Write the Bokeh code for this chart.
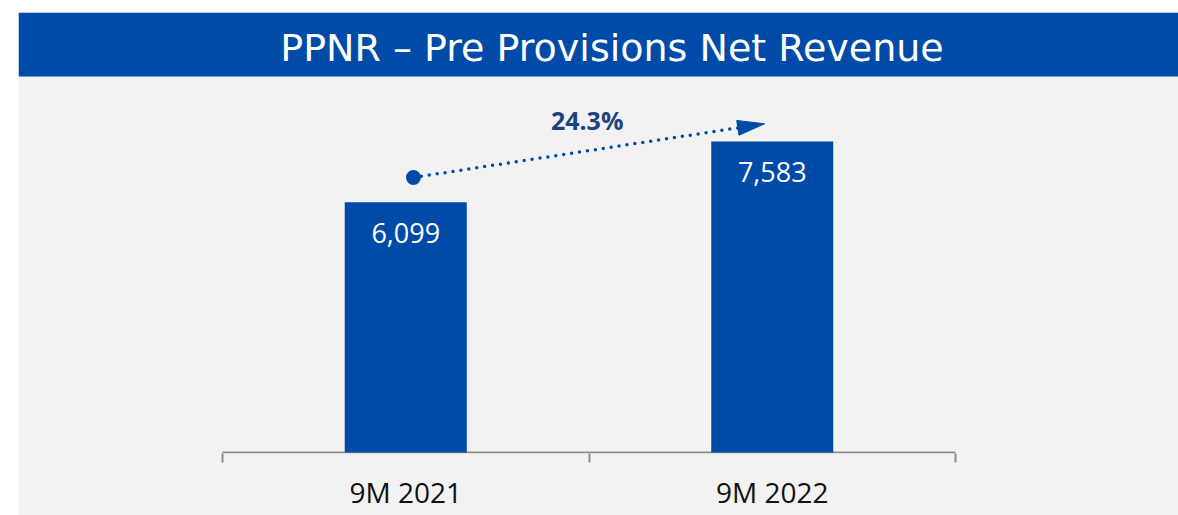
import math
from bokeh.plotting import figure
from bokeh.models import Range1d, LinearAxis, FixedTicker
from bokeh.core.properties import value
from bokeh.embed import file_html
from bokeh.resources import INLINE

# ---- data ----
categories = ["9M 2021", "9M 2022"]
ppnr_values = [6099, 7583]
value_labels = ["6,099", "7,583"]
growth_label = "24.3%"
title_text = "PPNR \u2013 Pre Provisions Net Revenue"

# ---- style ----
BLUE = "#004ba8"
BG = "#f2f2f2"
AXIS_GRAY = "#8c8c8c"
NAVY = "#1c437f"
FONT = "Open Sans"

# ---- layout constants (figure pixels) ----
FIG_W, FIG_H = 1160, 503
BORDER_B = 62                 # space under the plotting frame for the category axis
FRAME_H = FIG_H - BORDER_B
AX_L, AX_R = 204, 937         # pixel span of the category axis
BASE_PX = FRAME_H - 1         # pixel row of value 0
TITLE_BAR_H = 64
PX_PER_UNIT = 0.041013        # vertical pixels per value unit

n = len(categories)
centers = [i + 0.5 for i in range(n)]
edges = list(range(n + 1))
px_x = (AX_R - AX_L) / n
x_start = -AX_L / px_x
x_end = (FIG_W - AX_L) / px_x
y_start = -(FRAME_H - BASE_PX) / PX_PER_UNIT
y_end = BASE_PX / PX_PER_UNIT
title_bar_bottom = (BASE_PX - TITLE_BAR_H) / PX_PER_UNIT

p = figure(width=FIG_W, height=FIG_H, x_range=Range1d(x_start, x_end),
           y_range=Range1d(y_start, y_end), output_backend="svg", toolbar_location=None,
           min_border_left=0, min_border_right=0, min_border_top=0,
           min_border_bottom=BORDER_B,
           background_fill_color=BG, border_fill_color=BG, outline_line_color=None,
           x_axis_location=None, y_axis_location=None, margin=(12, 0, 0, 18))
p.xgrid.visible = False
p.ygrid.visible = False

# title bar
p.quad(left=[x_start], right=[x_end], bottom=[title_bar_bottom], top=[y_end],
       fill_color=BLUE, line_color=None)
p.text(x=[(593.5 - AX_L) / px_x], y=[(BASE_PX - 35) / PX_PER_UNIT], text=[title_text],
       text_font=value("DejaVu Sans"), text_font_size="38px", text_color="white",
       text_align="center", text_baseline="alphabetic")

# category axis: labels at centres, tick marks at category edges
ax = LinearAxis(ticker=FixedTicker(ticks=centers, minor_ticks=edges),
                major_label_overrides=dict(zip(centers, categories)),
                axis_line_color=None,
                major_tick_line_color=None, major_tick_in=0, major_tick_out=0,
                minor_tick_line_color=AXIS_GRAY, minor_tick_line_width=2,
                minor_tick_in=0, minor_tick_out=9,
                major_label_text_font=FONT, major_label_text_font_size="28px",
                major_label_text_color="#111111", major_label_standoff=10)
p.add_layout(ax, "below")
p.segment(x0=[edges[0]], x1=[edges[-1]], y0=[0], y1=[0], line_color=AXIS_GRAY,
          line_width=2)

# bars and value labels
p.vbar(x=centers, top=ppnr_values, width=0.333, fill_color=BLUE, line_color=None)
p.text(x=centers, y=ppnr_values, text=value_labels, y_offset=31,
       text_font=value(FONT), text_font_size="27px", text_color="white",
       text_align="center", text_baseline="alphabetic")

# ---- growth arrow ----
arrow_start = (0.521, 6706)
arrow_tip = (1.479, 8015)
HEAD_LEN, HEAD_HALF = 27, 7.5

sx0, sy0 = arrow_start[0] * px_x, arrow_start[1] * PX_PER_UNIT
sx1, sy1 = arrow_tip[0] * px_x, arrow_tip[1] * PX_PER_UNIT
d = math.hypot(sx1 - sx0, sy1 - sy0)
ux, uy = (sx1 - sx0) / d, (sy1 - sy0) / d
bx, by = sx1 - ux * HEAD_LEN, sy1 - uy * HEAD_LEN
nx, ny = -uy, ux
head_x = [sx1 / px_x, (bx + nx * HEAD_HALF) / px_x, (bx - nx * HEAD_HALF) / px_x]
head_y = [sy1 / PX_PER_UNIT, (by + ny * HEAD_HALF) / PX_PER_UNIT,
          (by - ny * HEAD_HALF) / PX_PER_UNIT]

p.line(x=[arrow_start[0], (bx + ux * 2) / px_x],
       y=[arrow_start[1], (by + uy * 2) / PX_PER_UNIT],
       line_color=BLUE, line_width=3.5, line_dash="0 8", line_cap="round")
p.patch(x=head_x, y=head_y, fill_color=BLUE, line_color=BLUE, line_width=1)
p.scatter(x=[arrow_start[0]], y=[arrow_start[1]], size=15,
          fill_color=BLUE, line_color=None)
p.text(x=[0.995], y=[7869 + 10 / PX_PER_UNIT], text=[growth_label],
       text_font=value(FONT), text_font_size="25px", text_font_style="bold",
       text_color=NAVY, text_align="center", text_baseline="alphabetic")

open("out.html", "w").write(file_html(p, INLINE))
